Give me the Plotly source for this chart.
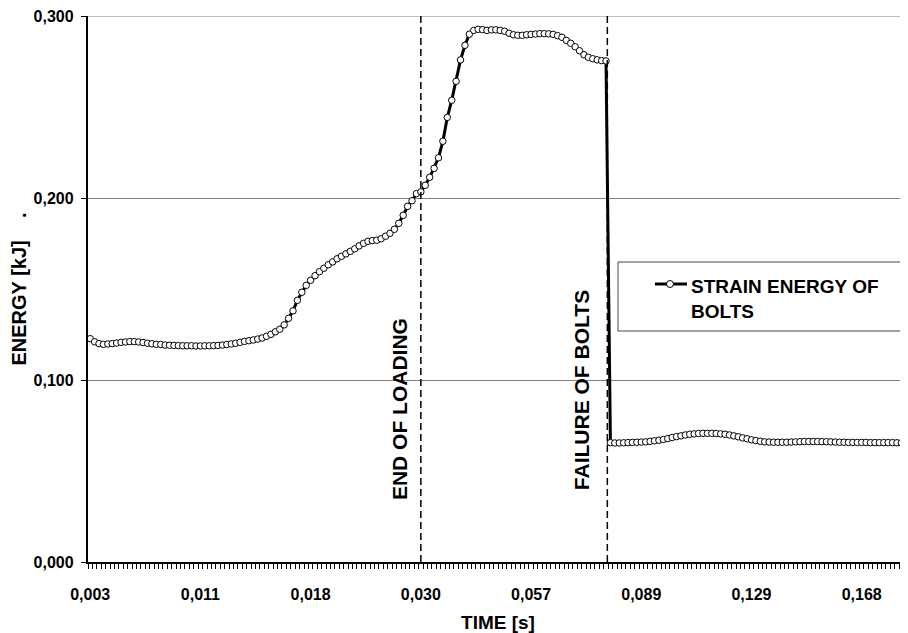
import plotly.graph_objects as go

# ---------------- data ----------------
energy_kj = [
    0.1227, 0.1210, 0.1200, 0.1196, 0.1198, 0.1200, 0.1203, 0.1207, 0.1209, 0.1211,
    0.1211, 0.1209, 0.1206, 0.1202, 0.1199, 0.1196, 0.1195, 0.1192, 0.1191, 0.1190,
    0.1189, 0.1188, 0.1188, 0.1188, 0.1187, 0.1187, 0.1188, 0.1188, 0.1189, 0.1190,
    0.1192, 0.1195, 0.1198, 0.1202, 0.1207, 0.1212, 0.1216, 0.1220, 0.1225, 0.1231,
    0.1240, 0.1251, 0.1265, 0.1279, 0.1303, 0.1339, 0.1380, 0.1438, 0.1482, 0.1520,
    0.1548, 0.1573, 0.1595, 0.1614, 0.1633, 0.1649, 0.1666, 0.1680, 0.1693, 0.1707,
    0.1721, 0.1737, 0.1751, 0.1762, 0.1766, 0.1768, 0.1776, 0.1790, 0.1806, 0.1828,
    0.1861, 0.1905, 0.1954, 0.1985, 0.2024, 0.2034, 0.2070, 0.2114, 0.2163, 0.2221,
    0.2312, 0.2443, 0.2537, 0.2641, 0.2759, 0.2839, 0.2900, 0.2921, 0.2927, 0.2925,
    0.2921, 0.2924, 0.2924, 0.2921, 0.2916, 0.2905, 0.2897, 0.2894, 0.2894, 0.2897,
    0.2899, 0.2901, 0.2903, 0.2903, 0.2902, 0.2899, 0.2892, 0.2883, 0.2866, 0.2850,
    0.2831, 0.2809, 0.2787, 0.2773, 0.2765, 0.2759, 0.2755, 0.2753,
    0.0656, 0.0654, 0.0654, 0.0655, 0.0656, 0.0657, 0.0658, 0.0659, 0.0660, 0.0663,
    0.0666, 0.0669, 0.0673, 0.0678, 0.0684, 0.0689, 0.0693, 0.0698, 0.0702, 0.0704,
    0.0706, 0.0707, 0.0707, 0.0707, 0.0706, 0.0704, 0.0702, 0.0698, 0.0693, 0.0688,
    0.0682, 0.0677, 0.0671, 0.0667, 0.0663, 0.0660, 0.0659, 0.0658, 0.0658, 0.0658,
    0.0658, 0.0659, 0.0660, 0.0661, 0.0662, 0.0662, 0.0662, 0.0662, 0.0661, 0.0661,
    0.0660, 0.0659, 0.0658, 0.0658, 0.0657, 0.0657, 0.0657, 0.0657, 0.0657, 0.0656,
    0.0656, 0.0656, 0.0656, 0.0656, 0.0656, 0.0655, 0.0655, 0.0655,
]
time_tick_index = [0, 25, 50, 75, 100, 125, 150, 175]
time_tick_labels = ["0,003", "0,011", "0,018", "0,030", "0,057", "0,089", "0,129", "0,168"]
energy_ticks = [0.0, 0.1, 0.2, 0.3]
energy_tick_labels = ["0,000", "0,100", "0,200", "0,300"]
end_of_loading_index = 75.0
failure_of_bolts_index = 117.3
series_name = "STRAIN ENERGY OF BOLTS"

# ---------------- layout geometry ----------------
# the page body keeps its default 8px margin, so the figure is sized/offset for it
W, H = 900, 625
ML, MR, MT, MB = 80, 0, 8, 71
PLOT_L, PLOT_T, PLOT_W, PLOT_H = 88, 16, 820, 546   # plot area in window pixels
Y_MAX = 0.3


def xp(px):
    return (px - PLOT_L) / PLOT_W


def yp(py):
    return (PLOT_T + PLOT_H - py) / PLOT_H


FONT = "Liberation Sans, Arial, Helvetica, sans-serif"
category_index = list(range(len(energy_kj)))

fig = go.Figure()
fig.add_trace(go.Scatter(
    x=category_index, y=energy_kj, mode="lines+markers", name=series_name,
    line=dict(color="black", width=3),
    marker=dict(symbol="circle", size=6.5, color="white",
                line=dict(color="black", width=1)),
    showlegend=False, cliponaxis=False,
))

shapes = [
    # top gridline (plot edge)
    dict(type="line", xref="paper", yref="y", x0=0, x1=1, y0=Y_MAX, y1=Y_MAX,
         line=dict(color="#808080", width=1), layer="below"),
]
for xi in (end_of_loading_index, failure_of_bolts_index):
    shapes.append(dict(type="line", xref="x", yref="y", x0=xi, x1=xi,
                       y0=0, y1=Y_MAX, line=dict(color="black", width=1.5, dash="7px,4px")))

# legend box (manual, Excel style)
shapes.append(dict(type="rect", xref="paper", yref="paper",
                   x0=xp(618), x1=xp(905), y0=yp(331), y1=yp(262),
                   line=dict(color="#444444", width=1), fillcolor="white", layer="above"))
shapes.append(dict(type="line", xref="paper", yref="paper",
                   x0=xp(655), x1=xp(687), y0=yp(284), y1=yp(284),
                   line=dict(color="black", width=3)))
shapes.append(dict(type="circle", xref="paper", yref="paper",
                   x0=xp(666.5), x1=xp(673.5), y0=yp(287.5), y1=yp(280.5),
                   line=dict(color="black", width=1), fillcolor="white"))

annotations = [
    dict(text="END OF LOADING", x=70.0, y=0.0839, xref="x", yref="y", textangle=-90,
         showarrow=False, font=dict(family=FONT, size=21, color="black", weight="bold")),
    dict(text="FAILURE OF BOLTS", x=111.5, y=0.0943, xref="x", yref="y", textangle=-90,
         showarrow=False, font=dict(family=FONT, size=21, color="black", weight="bold")),
    dict(text="STRAIN ENERGY OF<br>BOLTS", x=xp(689), y=yp(299), xref="paper", yref="paper",
         xanchor="left", yanchor="middle", align="left", showarrow=False,
         font=dict(family=FONT, size=19, color="black", weight="bold")),
]

fig.update_layout(
    width=W, height=H,
    margin=dict(l=ML, r=MR, t=MT, b=MB, pad=0, autoexpand=False),
    paper_bgcolor="white", plot_bgcolor="white",
    font=dict(family=FONT, color="black"),
    shapes=shapes, annotations=annotations,
    showlegend=False,
)
fig.update_xaxes(
    automargin=False,
    range=[-0.5, len(energy_kj) - 0.5],
    tickmode="array", tickvals=time_tick_index, ticktext=time_tick_labels,
    ticks="outside", ticklen=5, tickcolor="rgba(0,0,0,0)", ticklabelstandoff=12,
    tickfont=dict(family=FONT, size=16, color="black", weight="bold"),
    showgrid=False, zeroline=False,
    showline=True, linecolor="black", linewidth=1.5,
    minor=dict(tickmode="linear", tick0=-0.5, dtick=1, ticks="outside",
               ticklen=5, tickcolor="black", tickwidth=1, showgrid=False),
    title=dict(text="TIME [s]", standoff=20,
               font=dict(family=FONT, size=19, color="black", weight="bold")),
)
fig.update_yaxes(
    automargin=False,
    range=[0, Y_MAX],
    tickmode="array", tickvals=energy_ticks,
    ticktext=[t + "\u00a0" for t in energy_tick_labels],
    ticks="outside", ticklen=5, tickcolor="black", tickwidth=1,
    ticklabeloverflow="allow",
    tickfont=dict(family=FONT, size=16, color="black", weight="bold"),
    showgrid=True, gridcolor="#808080", gridwidth=1, zeroline=False,
    showline=True, linecolor="black", linewidth=1.5,
    title=dict(text="ENERGY [kJ]\u00a0\u00a0\u00a0\u00a0.", standoff=8,
               font=dict(family=FONT, size=20, color="black", weight="bold")),
)

fig.write_html("out.html")
